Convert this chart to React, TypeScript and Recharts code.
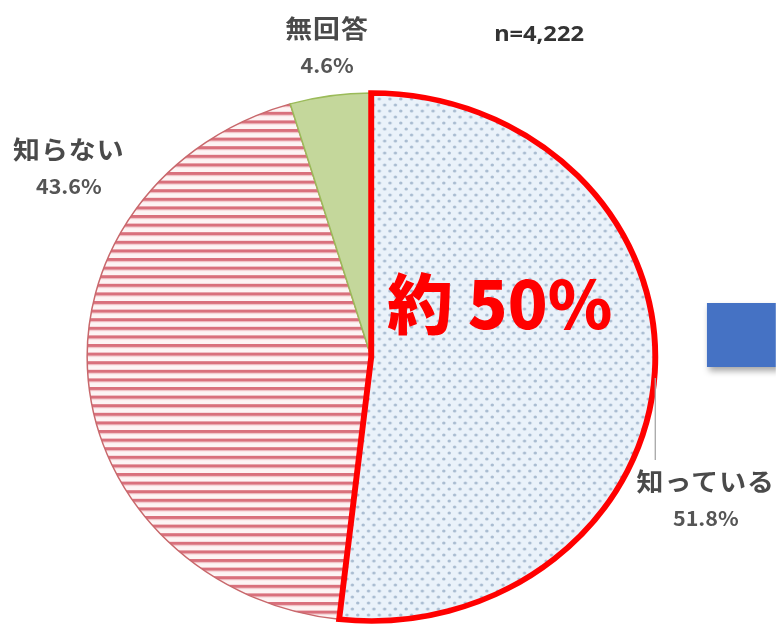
import { PieChart, Pie, Cell } from "recharts";

const categories = ["知っている", "知らない", "無回答"];
const shares = [51.8, 43.6, 4.6];
const sampleSize = "n=4,222";
const headline = "約 50%";

// horizontal stretch of the original picture
const SX = 1.076;
const W = 776;
const H = 625;
const CW = W / SX;

const CX = 345;
const CY = 357;
const R = 264;

const data = categories.map((name, i) => ({ name, value: shares[i] }));

const FILLS = ["url(#dots)", "url(#stripes)", "#c4d79b"];
const STROKES = ["#d0d8e0", "#c8686c", "#9bbb59"];

// label placement (chart coords, x before stretch)
const LABEL_POS = [
  { x: 656, y: 480 },
  { x: 64, y: 148 },
  { x: 304, y: 27 },
];

const labelFont = "'Noto Sans CJK JP', 'Noto Sans', sans-serif";

export default function App() {
  return (
    <div
      style={{
        width: W,
        height: H,
        overflow: "hidden",
        position: "relative",
        background: "#fff",
      }}
    >
      <style>{`body{margin:0}`}</style>
      <div
        style={{
          width: CW,
          height: H,
          position: "relative",
          transform: `scaleX(${SX})`,
          transformOrigin: "0 0",
        }}
      >
        <PieChart width={CW} height={H} margin={{ top: 0, right: 0, bottom: 0, left: 0 }}>
          <defs>
            <pattern id="dots" patternUnits="userSpaceOnUse" width="10" height="12">
              <rect width="10" height="12" fill="#eaf2fa" />
              <circle cx="2.5" cy="3" r="1.6" fill="#a9bcd1" />
              <circle cx="7.5" cy="9" r="1.6" fill="#a9bcd1" />
            </pattern>
            <pattern id="stripes" patternUnits="userSpaceOnUse" width="20" height="8.6">
              <rect width="20" height="8.6" fill="#fdf4f4" />
              <rect y="0" width="20" height="3" fill="#d9707c" />
              <rect y="3" width="20" height="1" fill="#eeb8bd" />
            </pattern>
          </defs>

          <Pie
            data={data}
            dataKey="value"
            nameKey="name"
            cx={CX}
            cy={CY}
            outerRadius={R}
            startAngle={90}
            endAngle={-270}
            isAnimationActive={false}
          >
            {data.map((_, i) => (
              <Cell key={`cell-${i}`} fill={FILLS[i]} stroke={STROKES[i]} strokeWidth={1.4} />
            ))}
          </Pie>

          {/* red outline around the first slice, drawn on top */}
          <Pie
            data={data}
            dataKey="value"
            nameKey="name"
            cx={CX}
            cy={CY}
            outerRadius={R}
            startAngle={90}
            endAngle={-270}
            fill="none"
            isAnimationActive={false}
          >
            {data.map((_, i) => (
              <Cell
                key={`outline-${i}`}
                fill="none"
                stroke={i === 0 ? "#ff0000" : "none"}
                strokeWidth={i === 0 ? 5.5 : 0}
                strokeLinejoin="miter"
              />
            ))}
          </Pie>
        </PieChart>

        {/* annotations on top of the pie */}
        <svg
          width={CW}
          height={H}
          style={{ position: "absolute", left: 0, top: 0, pointerEvents: "none" }}
        >
          <defs>
            <filter id="shadow" x="-20%" y="-20%" width="140%" height="160%">
              <feDropShadow dx="2" dy="4" stdDeviation="3" floodColor="#000" floodOpacity="0.35" />
            </filter>
          </defs>

          {/* leader line for 知っている */}
          <line x1={609} y1={378} x2={609} y2={460} stroke="#a6a6a6" strokeWidth={1.2} />

          {categories.map((name, i) => (
            <g key={`lbl-${i}`}>
              <text
                x={LABEL_POS[i].x}
                y={LABEL_POS[i].y}
                textAnchor="middle"
                dominantBaseline="central"
                fontFamily={labelFont}
                fontWeight={700}
                fontSize={25}
                letterSpacing={1}
                fill="#4a4a4a"
              >
                {name}
              </text>
              <text
                x={LABEL_POS[i].x}
                y={LABEL_POS[i].y + 37}
                textAnchor="middle"
                dominantBaseline="central"
                fontFamily={labelFont}
                fontWeight={700}
                fontSize={20}
                fill="#555"
              >
                {`${shares[i]}%`}
              </text>
            </g>
          ))}

          <text
            x={501}
            y={33}
            textAnchor="middle"
            dominantBaseline="central"
            fontFamily="'Noto Sans', sans-serif"
            fontWeight={700}
            fontSize={22}
            fill="#333"
          >
            {sampleSize}
          </text>

          <text
            x={360}
            y={329}
            textAnchor="start"
            fontFamily={labelFont}
            fontWeight={900}
            fontSize={66}
            textLength={209}
            lengthAdjust="spacingAndGlyphs"
            fill="#ff0000"
          >
            {headline}
          </text>

          {/* blue arrow body, cut off at the right edge */}
          <rect x={657} y={303} width={90} height={64} fill="#4472c4" filter="url(#shadow)" />
        </svg>
      </div>
    </div>
  );
}
